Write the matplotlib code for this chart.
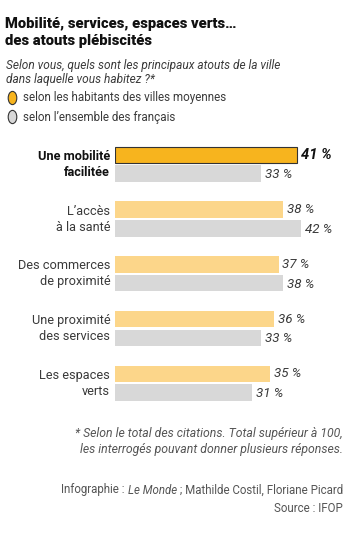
import matplotlib
matplotlib.use("Agg")
import matplotlib.pyplot as plt
from matplotlib.patches import Circle

categories = ["Une mobilité\nfacilitée", "L’accès\nà la santé", "Des commerces\nde proximité",
              "Une proximité\ndes services", "Les espaces\nverts"]
villes_moyennes = [41, 38, 37, 36, 35]
ensemble = [33, 42, 38, 33, 31]
legend_labels = ["selon les habitants des villes moyennes", "selon l’ensemble des français"]

W, H = 350, 538
fig = plt.figure(figsize=(W / 100, H / 100), dpi=100)
fig.patch.set_facecolor("white")
FONT = "Roboto"
GREY = "#3a3a3a"

def px(x, y):
    return x / W, 1 - y / H

# title
for yy, t in [(24, "Mobilité, services, espaces verts…"), (41, "des atouts plébiscités")]:
    fig.text(*px(5, yy), t, fontsize=10.6, fontweight="heavy", family=FONT, va="center",
             ha="left", color="#111111")
for yy, t in [(65, "Selon vous, quels sont les principaux atouts de la ville"),
              (80, "dans laquelle vous habitez ?*")]:
    fig.text(*px(6, yy), t, fontsize=8.6, style="italic", family=FONT, va="center",
             ha="left", color=GREY)

# legend
leg_colors = ["#F7B41E", "#D8D8D8"]
for i, (lab, c) in enumerate(zip(legend_labels, leg_colors)):
    yy = 98 + 19 * i
    circ = Circle(px(12.5, yy), radius=4.3 / W, transform=fig.transFigure, facecolor=c,
                  edgecolor="#333333", linewidth=0.8)
    fig.patches.append(circ)
    fig.text(*px(23, yy), lab, fontsize=8.4, family=FONT, va="center", ha="left", color=GREY)

# bars
ax = fig.add_axes([115 / W, 1 - 410.5 / H, 235 / W, 273.5 / H])
ax.set_xlim(0, 235 / 4.43)
ax.set_ylim(4.5, -0.5)
ax.axis("off")
n = len(categories)
off = 0.171
bh = 0.30
for i in range(n):
    hi = i == 0
    ax.barh(i - off, villes_moyennes[i], height=bh, color="#F7B41E" if hi else "#FCD68A",
            edgecolor="#333333" if hi else "none", linewidth=0.8 if hi else 0)
    ax.barh(i + off, ensemble[i], height=bh, color="#D8D8D8", edgecolor="none")
    ax.text(villes_moyennes[i] + (1.0 if hi else 0.8), i - off, f"{villes_moyennes[i]} %",
            fontsize=10.6 if hi else 9.6, fontweight="bold" if hi else "normal", style="italic",
            family=FONT, va="center", ha="left", color="#111111" if hi else GREY)
    ax.text(ensemble[i] + 0.8, i + off + 0.02, f"{ensemble[i]} %", fontsize=9.6, style="italic",
            family=FONT, va="center", ha="left", color=GREY)
    ax.text(-1.1, i, categories[i], fontsize=9.2, fontweight="bold" if hi else "normal",
            family=FONT, va="center", ha="right", color="#111111" if hi else GREY,
            linespacing=1.3)

# footnotes
for yy, t in [(433, "* Selon le total des citations. Total supérieur à 100,"),
              (449, "les interrogés pouvant donner plusieurs réponses.")]:
    fig.text(*px(343, yy), t, fontsize=8.8, style="italic", family=FONT, va="center",
             ha="right", color="#555555")

# credits: build right-aligned from pieces
fig.canvas.draw()
r = fig.canvas.get_renderer()
pieces = [("Infographie : ", "normal"), ("Le Monde", "italic"),
          (" ; Mathilde Costil, Floriane Picard", "normal")]
x = 343
for t, st in reversed(pieces):
    tx = fig.text(*px(x, 490), t, fontsize=8.3, style=st, family=FONT, va="center",
                  ha="right", color="#555555")
    w = tx.get_window_extent(renderer=r).width
    x -= w
fig.text(*px(343, 508), "Source : IFOP", fontsize=8.3, family=FONT, va="center", ha="right",
         color="#555555")

fig.savefig("out.png", dpi=100, facecolor="white")
